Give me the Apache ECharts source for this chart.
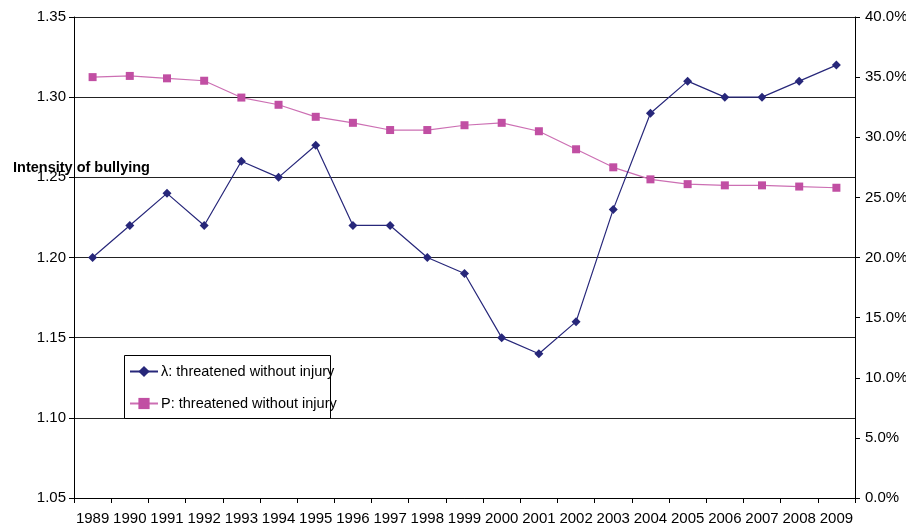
<!DOCTYPE html>
<html>
<head>
<meta charset="utf-8">
<script src="https://cdn.jsdelivr.net/npm/echarts@6/dist/echarts.min.js"></script>
<style>
  html, body { margin: 0; padding: 0; background: #fff; }
  #chart { width: 906px; height: 525px; }
</style>
</head>
<body>
<div id="chart"></div>
<script>
// Years on the category axis
const years = ['1989','1990','1991','1992','1993','1994','1995','1996','1997','1998','1999',
               '2000','2001','2002','2003','2004','2005','2006','2007','2008','2009'];

// λ: intensity of bullying (left axis)
const lambdaValues = [1.20, 1.22, 1.24, 1.22, 1.26, 1.25, 1.27, 1.22, 1.22, 1.20, 1.19,
                      1.15, 1.14, 1.16, 1.23, 1.29, 1.31, 1.30, 1.30, 1.31, 1.32];

// P: share threatened without injury, in percent (right axis)
const pValues = [35.0, 35.1, 34.9, 34.7, 33.3, 32.7, 31.7, 31.2, 30.6, 30.6, 31.0,
                 31.2, 30.5, 29.0, 27.5, 26.5, 26.1, 26.0, 26.0, 25.9, 25.8];

const lambdaName = 'λ: threatened without injury';
const pName = 'P: threatened without injury';
const axisTitle = 'Intensity of bullying';

const font = 'Liberation Sans, Arial, sans-serif';
const navy = '#27277a';
const pink = '#c14fa3';

const chart = echarts.init(document.getElementById('chart'), null, { renderer: 'canvas' });

chart.setOption({
  animation: false,
  backgroundColor: '#fff',
  textStyle: { fontFamily: font },
  grid: { left: 74, right: 51, top: 17, bottom: 27, containLabel: false, outerBoundsMode: 'none' },
  graphic: [{
    type: 'text',
    left: 13,
    top: 160,
    z: 10,
    style: { text: axisTitle, font: 'bold 14.5px ' + font, fill: '#000' }
  }, {
    // legend frame; the legend text is allowed to run past its right edge
    type: 'rect',
    left: 124,
    top: 355,
    z: 5,
    shape: { width: 206, height: 63 },
    style: { fill: '#fff', stroke: '#000', lineWidth: 1 }
  }],
  legend: {
    orient: 'vertical',
    left: 124,
    top: 355,
    padding: [9, 0, 9, 5],
    itemWidth: 28,
    itemHeight: 14,
    itemGap: 17,
    z: 6,
    textStyle: { fontSize: 14.5, color: '#000', fontFamily: font, padding: [0, 0, 0, -2] },
    data: [lambdaName, pName]
  },
  xAxis: {
    type: 'category',
    data: years,
    boundaryGap: true,
    axisLine: { lineStyle: { color: '#000', width: 1 } },
    axisTick: { show: true, alignWithLabel: false, length: 5, inside: false, lineStyle: { color: '#000' } },
    axisLabel: { color: '#000', fontSize: 15, margin: 13, interval: 0, fontFamily: font }
  },
  yAxis: [{
    type: 'value',
    min: 1.05,
    max: 1.35,
    interval: 0.05,
    position: 'left',
    axisLine: { show: true, lineStyle: { color: '#000', width: 1 } },
    axisTick: { show: true, length: 5, lineStyle: { color: '#000' } },
    axisLabel: { color: '#000', fontSize: 15, margin: 8, fontFamily: font,
                 formatter: v => v.toFixed(2) },
    splitLine: { show: true, lineStyle: { color: '#222', width: 1.2 } }
  }, {
    type: 'value',
    min: 0,
    max: 40,
    interval: 5,
    position: 'right',
    axisLine: { show: true, lineStyle: { color: '#000', width: 1 } },
    axisTick: { show: true, length: 5, lineStyle: { color: '#000' } },
    axisLabel: { color: '#000', fontSize: 15, margin: 10, fontFamily: font,
                 formatter: v => v.toFixed(1) + '%' },
    splitLine: { show: false }
  }],
  series: [{
    name: lambdaName,
    type: 'line',
    yAxisIndex: 0,
    data: lambdaValues,
    symbol: 'diamond',
    symbolSize: 9,
    itemStyle: { color: navy },
    lineStyle: { color: navy, width: 1.2 },
    z: 3
  }, {
    name: pName,
    type: 'line',
    yAxisIndex: 1,
    data: pValues,
    symbol: 'rect',
    symbolSize: 8,
    itemStyle: { color: pink },
    lineStyle: { color: '#cc6fb3', width: 1.2 },
    z: 2
  }]
});
</script>
</body>
</html>
